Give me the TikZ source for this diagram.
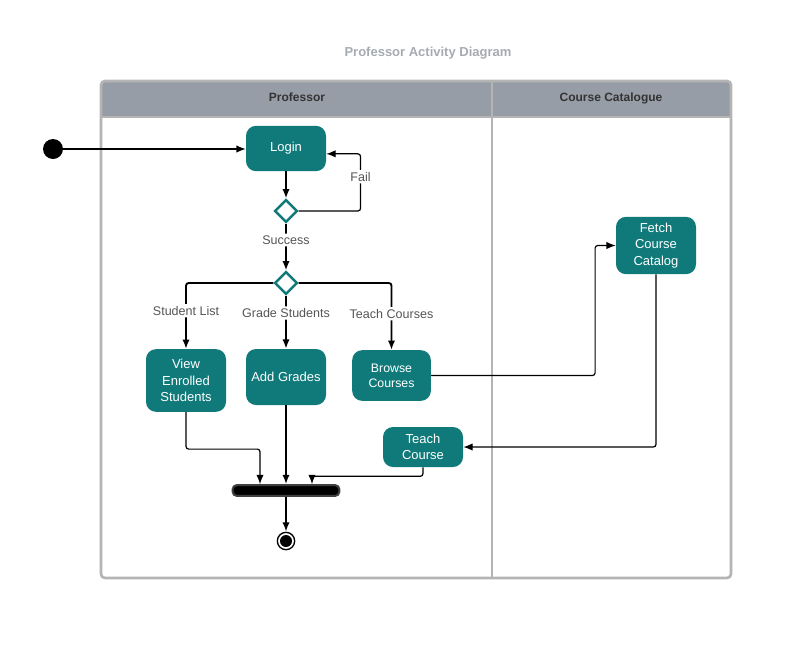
\documentclass[tikz,border=0pt]{standalone}
\usepackage{fontspec}
\setmainfont{Liberation Sans}
\usetikzlibrary{shapes.geometric,arrows.meta}
\definecolor{actteal}{HTML}{107A7A}
\definecolor{lanegray}{HTML}{979DA6}
\definecolor{poolgray}{HTML}{B4B4B4}
\definecolor{titlegray}{HTML}{A6AAB1}
\definecolor{labelgray}{HTML}{555555}

\begin{document}
\begin{tikzpicture}[x=0.75pt, y=-0.75pt,
  activity/.style={rectangle, rounded corners=7.5pt, fill=actteal, text=white, align=center, minimum width=60pt, inner sep=1pt, font=\fontsize{9.75}{12.4}\selectfont},
  decision/.style={diamond, draw=actteal, fill=white, line width=1.8pt, minimum size=17pt, inner sep=0pt},
  guard/.style={fill=white, text=labelgray, inner sep=1.5pt, font=\fontsize{9.4}{11}\selectfont},
  flow/.style={-{Latex[length=7pt,width=5.5pt]}, line width=1.4pt, rounded corners=2pt},
  thinflow/.style={-{Latex[length=7pt,width=5.5pt]}, line width=0.9pt, rounded corners=2pt},
  lanehead/.style={text=black!80, text height=7pt, text depth=2pt, font=\fontsize{9}{11}\selectfont\bfseries}]
\useasboundingbox (0,0) rectangle (812,650);

\node[text=titlegray, font=\fontsize{9.75}{12}\selectfont\bfseries] (title) at (428,53) {Professor Activity Diagram};

\fill[lanegray] (101,117) [rounded corners=3pt] -- (101,81) -- (731,81) [sharp corners] -- (731,117) -- cycle;
\draw[poolgray, line width=2pt, rounded corners=3pt] (101,81) rectangle (731,578);
\draw[poolgray, line width=2pt] (101,117) -- (731,117);
\draw[poolgray, line width=2pt] (492,81) -- (492,578);
\node[lanehead] (profhead) at (297,98) {Professor};
\node[lanehead] (cathead) at (611,98) {Course Catalogue};

\node[circle, fill=black, minimum size=15pt, inner sep=0pt] (start) at (53,149) {};
\node[activity, minimum height=34pt] (login) at (286,148.5) {Login};
\node[decision] (dec1) at (286,211) {};
\node[decision] (dec2) at (286,283) {};
\node[activity, minimum height=47pt] (view) at (186,380.5) {View\\Enrolled\\Students};
\node[activity, minimum height=42pt] (grades) at (286,377) {Add Grades};
\node[activity, minimum width=59pt, minimum height=38pt, font=\fontsize{9.25}{11.5}\selectfont] (browse) at (391.5,375.5) {Browse\\Courses};
\node[activity, minimum height=43pt] (fetch) at (656,245.5) {Fetch\\Course\\Catalog};
\node[activity, minimum height=30pt] (teach) at (423,447) {Teach\\Course};
\node[rectangle, fill=black, draw=black!75, line width=1.5pt, rounded corners=3pt, minimum width=80pt, minimum height=8pt, inner sep=0pt] (join) at (286,490.5) {};
\node[circle, draw, line width=1pt, minimum size=13pt, inner sep=0pt] (fin) at (286,541) {};
\fill (fin) circle[radius=4.5pt];

\draw[thinflow] (start) -- (start -| login.west);
\draw[flow] (login) -- (dec1);
\draw[thinflow] (dec1.east) -- ++(62,0) |- node[guard, pos=0.3] {Fail} ([yshift=-4pt]login.east);
\draw[flow] (dec1) -- node[guard, pos=0.35] {Success} (dec2);
\draw[flow] (dec2.west) -| node[guard, pos=0.71] {Student List} (view.north);
\draw[flow] (dec2) -- node[guard, pos=0.33] {Grade Students} (grades);
\draw[flow] (dec2.east) -| node[guard, pos=0.73] {Teach Courses} (browse.north);
\draw[thinflow] (browse.east) -- ++(164,0) |- (fetch.west);
\draw[thinflow] (fetch.south) |- (teach.east);
\draw[thinflow] (view.south) -- ++(0,37) -| ([xshift=-19.5pt]join.north);
\draw[flow] (grades) -- (join);
\draw[thinflow] (teach.south) -- ++(0,9) -| ([xshift=19.5pt]join.north);
\draw[flow] (join) -- (fin);
\end{tikzpicture}
\end{document}
